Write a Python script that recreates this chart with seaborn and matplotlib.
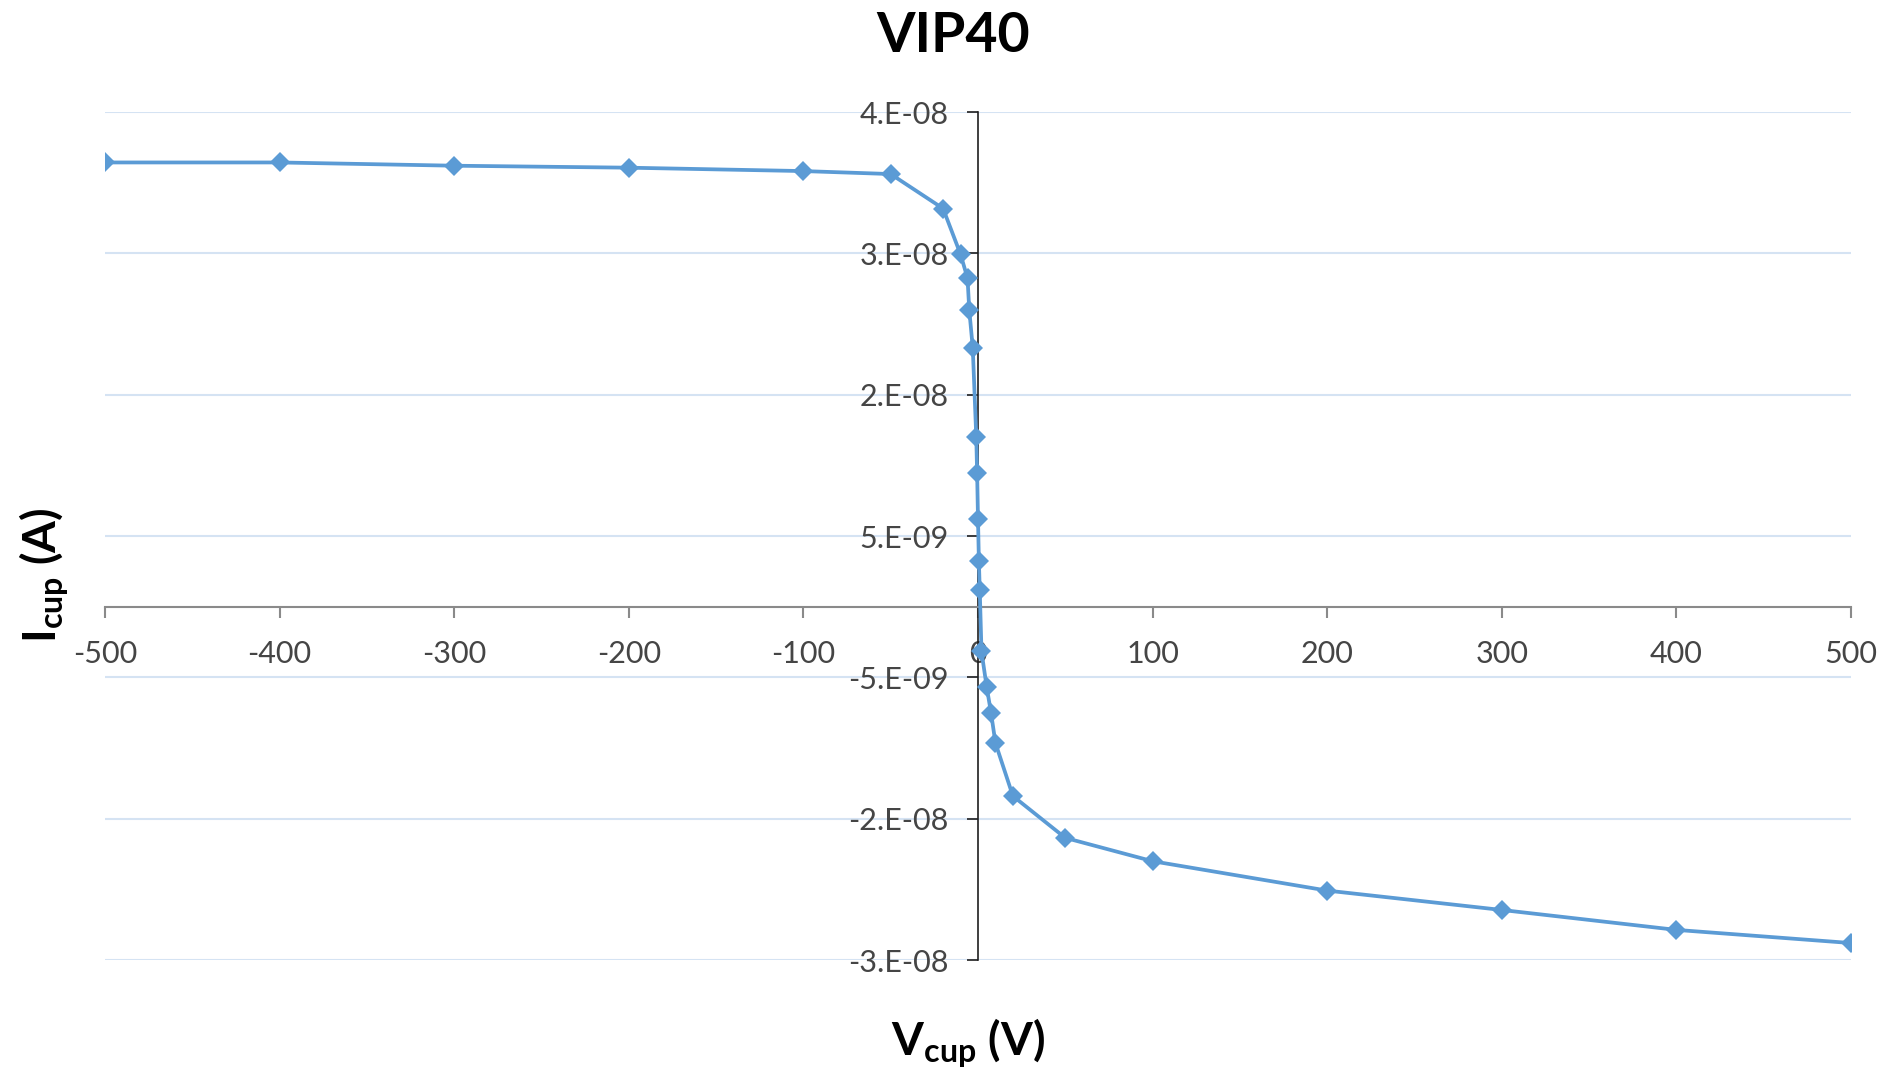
import matplotlib
matplotlib.use("Agg")
import matplotlib.pyplot as plt
import seaborn as sns
import pandas as pd

# ---- data ----
v_cup = [-500, -400, -300, -200, -100, -50, -20, -10, -6, -5, -3, -1, -0.5, 0,
         0.5, 1, 2, 5, 7.5, 10, 20, 50, 100, 200, 300, 400, 500]
i_cup = [3.143e-8, 3.143e-8, 3.120e-8, 3.106e-8, 3.082e-8, 3.061e-8,
         2.817e-8, 2.493e-8, 2.324e-8, 2.099e-8, 1.831e-8, 1.204e-8,
         0.944e-8, 0.620e-8, 0.324e-8, 0.120e-8, -0.317e-8, -0.570e-8,
         -0.754e-8, -0.965e-8, -1.340e-8, -1.636e-8, -1.801e-8, -2.009e-8,
         -2.146e-8, -2.287e-8, -2.380e-8]

x_ticks = [-500, -400, -300, -200, -100, 0, 100, 200, 300, 400, 500]
x_tick_labels = ["-500", "-400", "-300", "-200", "-100", "0", "100", "200", "300", "400", "500"]
y_ticks = [3.5e-8, 2.5e-8, 1.5e-8, 5e-9, -5e-9, -1.5e-8, -2.5e-8]
y_tick_labels = ["4.E-08", "3.E-08", "2.E-08", "5.E-09", "-5.E-09", "-2.E-08", "-3.E-08"]

title = "VIP40"
x_label = r"$\mathbf{V_{cup}}$ (V)"
y_label = r"$\mathbf{I_{cup}}$ (A)"

df = pd.DataFrame({"V": v_cup, "I": i_cup})

sns.set_theme(style="white")
plt.rcParams["font.family"] = ["Lato", "DejaVu Sans"]
plt.rcParams["mathtext.fontset"] = "custom"
plt.rcParams["mathtext.rm"] = "Lato"
plt.rcParams["mathtext.bf"] = "Lato:bold"
plt.rcParams["mathtext.it"] = "Lato:italic"

W, H = 1887, 1075
fig = plt.figure(figsize=(W / 100, H / 100), dpi=100)
left, right, top, bottom = 105, 1851, 112, 960
ax = fig.add_axes([left / W, 1 - bottom / H, (right - left) / W, (bottom - top) / H])

line_color = "#5B9BD5"
sns.lineplot(data=df, x="V", y="I", ax=ax, sort=False, estimator=None,
             color=line_color, linewidth=2.7, marker="D", markersize=10,
             markeredgewidth=0, zorder=5)

ax.set_xlim(-500, 500)
ax.set_ylim(-2.5e-8, 3.5e-8)

ax.set_xticks(x_ticks, labels=x_tick_labels)
ax.set_yticks(y_ticks, labels=y_tick_labels)

for sp in ["top", "right"]:
    ax.spines[sp].set_visible(False)
ax.spines["left"].set_position(("data", 0))
ax.spines["bottom"].set_position(("data", 0))
ax.spines["left"].set_color("#1f1f1f")
ax.spines["left"].set_linewidth(1.2)
ax.spines["bottom"].set_color("#8a8a8a")
ax.spines["bottom"].set_linewidth(1.5)
ax.spines["left"].set_zorder(3)
ax.spines["bottom"].set_zorder(3)

ax.tick_params(axis="y", direction="out", length=8, width=1.2, color="#1f1f1f",
               labelsize=22, labelcolor="#454545", pad=13, left=True)
ax.tick_params(axis="x", direction="out", length=8, width=1.5, color="#8a8a8a",
               labelsize=22, labelcolor="#454545", pad=16, bottom=True)

ax.yaxis.grid(True, color="#D5E3F3", linewidth=1.5, zorder=0)
ax.xaxis.grid(False)
ax.set_axisbelow(True)
ax.set_xlabel("")
ax.set_ylabel("")

fig.text(953 / W, 1 - 52 / H, title, ha="center", va="baseline",
         fontsize=40, fontweight="bold", color="black")
fig.text(968 / W, 1 - 1055 / H, x_label, ha="center", va="baseline",
         fontsize=33, fontweight="bold", color="black")
fig.text(44 / W, 1 - 575 / H, y_label, ha="center", va="center", rotation=90,
         fontsize=33, fontweight="bold", color="black")

fig.savefig("out.png", dpi=100, facecolor="white")
